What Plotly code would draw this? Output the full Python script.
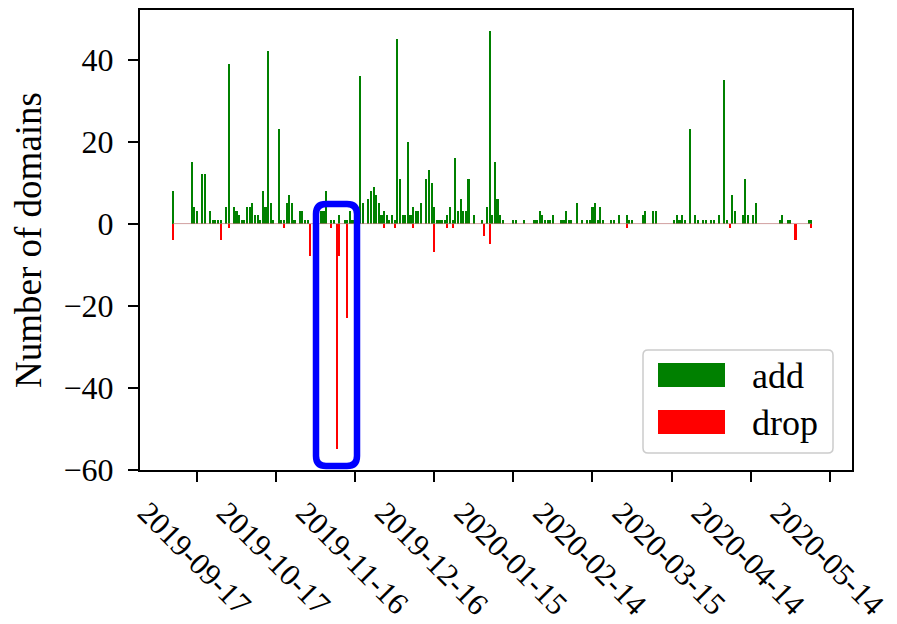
import plotly.graph_objects as go
import pandas as pd

# ---- data (daily series, first day of data) ----
start_date = "2019-09-08"

add_values = [
    8, 0, 0, 0, 0, 0, 0, 15, 4, 3,
    0, 12, 12, 0, 3, 1, 1, 1, 1, 0,
    4, 39, 0, 4, 3, 2, 1, 1, 4, 4,
    5, 2, 2, 1, 8, 4, 42, 5, 1, 0,
    23, 1, 1, 5, 7, 5, 1, 0, 3, 3,
    1, 1, 0, 0, 0, 1, 3, 3, 8, 0,
    1, 1, 0, 2, 0, 1, 1, 3, 1, 0,
    0, 36, 5, 0, 6, 8, 9, 7, 5, 2,
    3, 2, 1, 2, 1, 45, 11, 2, 2, 20,
    2, 4, 3, 3, 5, 0, 11, 13, 10, 4,
    1, 1, 1, 1, 2, 4, 1, 16, 3, 6,
    3, 3, 11, 0, 2, 0, 0, 1, 0, 4,
    47, 2, 15, 6, 2, 1, 0, 0, 0, 1,
    1, 0, 0, 1, 0, 0, 0, 1, 1, 3,
    2, 1, 1, 1, 2, 0, 0, 1, 1, 3,
    1, 1, 0, 5, 0, 1, 0, 1, 1, 4,
    5, 1, 4, 1, 0, 0, 1, 1, 0, 2,
    0, 0, 2, 1, 1, 0, 0, 0, 2, 3,
    0, 0, 3, 3, 0, 0, 0, 0, 0, 0,
    1, 2, 1, 2, 1, 0, 23, 0, 2, 1,
    0, 1, 1, 0, 1, 1, 0, 2, 0, 35,
    1, 0, 7, 3, 0, 0, 2, 11, 2, 0,
    2, 5, 0, 0, 0, 0, 0, 0, 0, 0,
    1, 2, 0, 1, 1, 0, 0, 0, 0, 0,
    0, 1, 1,
]

drop_values = [
    -4, 0, 0, 0, 0, 0, 0, 0, 0, 0,
    0, 0, 0, 0, 0, 0, 0, 0, -4, 0,
    0, -1, 0, 0, 0, 0, 0, 0, 0, 0,
    0, 0, 0, 0, 0, 0, 0, 0, 0, 0,
    0, 0, -1, 0, 0, 0, 0, 0, 0, 0,
    0, 0, -8, 0, 0, 0, 0, 0, 0, 0,
    -1, 0, -55, -8, 0, 0, -23, 0, 0, 0,
    0, 0, 0, 0, 0, 0, 0, 0, 0, 0,
    -1, 0, 0, 0, -1, 0, 0, 0, 0, 0,
    0, -1, 0, 0, 0, 0, 0, 0, 0, -7,
    0, 0, 0, 0, -1, 0, -1, 0, 0, 0,
    0, 0, 0, 0, 0, 0, 0, 0, -3, 0,
    -5, 0, 0, 0, 0, 0, 0, 0, 0, 0,
    0, 0, 0, 0, 0, 0, 0, 0, 0, 0,
    0, 0, 0, 0, 0, 0, 0, 0, 0, 0,
    0, 0, 0, 0, 0, 0, 0, 0, 0, 0,
    0, 0, 0, 0, 0, 0, 0, 0, 0, 0,
    0, 0, -1, 0, 0, 0, 0, 0, 0, 0,
    0, 0, 0, 0, 0, 0, 0, 0, 0, 0,
    0, 0, 0, 0, 0, 0, 0, 0, 0, 0,
    0, 0, 0, 0, 0, 0, 0, 0, 0, 0,
    0, -1, 0, 0, 0, 0, 0, 0, 0, 0,
    0, 0, 0, 0, 0, 0, 0, 0, 0, 0,
    0, 0, 0, 0, 0, 0, -4, 0, 0, 0,
    0, 0, -1,
]

tick_dates = ["2019-09-17", "2019-10-17", "2019-11-16", "2019-12-16", "2020-01-15",
              "2020-02-14", "2020-03-15", "2020-04-14", "2020-05-14"]
y_ticks = [-60, -40, -20, 0, 20, 40]
x_range = ["2019-08-26 10:00", "2020-05-22 10:00"]
y_range = [-60.1, 52.1]

dates = pd.date_range(start_date, periods=len(add_values), freq="D")
day_ms = 86400000

FONT = "Liberation Serif, DejaVu Serif, serif"

# page body has an 8px default margin: figure placed so plot area sits at x 140..852, y 10..470
PAGE_OFF = 8
FIG_W, FIG_H = 897 - PAGE_OFF, 624 - PAGE_OFF
M_L, M_T = 140 - PAGE_OFF, 10 - PAGE_OFF
M_R = FIG_W - M_L - 712
M_B = FIG_H - M_T - 460

fig = go.Figure()
fig.add_trace(go.Scatter(x=[dates[0], dates[-1]], y=[0, 0], mode="lines",
                         line=dict(color="rgba(190,120,120,0.7)", width=1),
                         showlegend=False, hoverinfo="skip"))
fig.add_trace(go.Bar(x=dates, y=add_values, name="add", marker_color="#008000",
                     marker_line_width=0, width=0.8 * day_ms, showlegend=False))
fig.add_trace(go.Bar(x=dates, y=drop_values, name="drop", marker_color="#ff0000",
                     marker_line_width=0, width=0.8 * day_ms, showlegend=False))

axis_common = dict(showgrid=False, zeroline=False, showline=True, linecolor="black",
                   linewidth=2, mirror=True, ticks="outside", ticklen=10, tickwidth=1.5,
                   tickcolor="black", automargin=False)

fig.update_xaxes(type="date", range=x_range, tickvals=tick_dates, ticktext=tick_dates,
                 tickangle=45, ticklabelshift=-50,
                 tickfont=dict(family=FONT, size=31, color="black"), **axis_common)
fig.update_yaxes(range=y_range, tickvals=y_ticks, ticklabelstandoff=8,
                 tickfont=dict(family=FONT, size=32, color="black"),
                 title=dict(text="Number of domains", font=dict(family=FONT, size=37, color="black"),
                            standoff=22),
                 **axis_common)

def px(xp):
    return (xp - 140) / 712

def py(yp):
    return (470 - yp) / 460

def rounded_rect(x0p, x1p, y0p, y1p, r):
    bx0, bx1, by0, by1 = px(x0p), px(x1p), py(y1p), py(y0p)
    rx, ry = r / 712, r / 460
    return (f"M {bx0+rx},{by1} L {bx1-rx},{by1} Q {bx1},{by1} {bx1},{by1-ry} "
            f"L {bx1},{by0+ry} Q {bx1},{by0} {bx1-rx},{by0} "
            f"L {bx0+rx},{by0} Q {bx0},{by0} {bx0},{by0+ry} "
            f"L {bx0},{by1-ry} Q {bx0},{by1} {bx0+rx},{by1} Z")

shapes = [
    dict(type="path", xref="paper", yref="paper", path=rounded_rect(643, 833, 350, 453, 5),
         line=dict(color="#cccccc", width=1.5), fillcolor="white", layer="above"),
    dict(type="rect", xref="paper", yref="paper", x0=px(658), x1=px(725), y0=py(387), y1=py(363),
         line=dict(width=0), fillcolor="#008000", layer="above"),
    dict(type="rect", xref="paper", yref="paper", x0=px(658), x1=px(725), y0=py(434), y1=py(410),
         line=dict(width=0), fillcolor="#ff0000", layer="above"),
    # blue rounded highlight box
    dict(type="path", xref="paper", yref="paper", path=rounded_rect(316, 357, 204, 466, 10),
         line=dict(color="#0000ff", width=6.5), layer="above"),
]

annotations = [
    dict(xref="paper", yref="paper", x=px(750), y=py(376), text="add", showarrow=False,
         xanchor="left", yanchor="middle", font=dict(family=FONT, size=36, color="black")),
    dict(xref="paper", yref="paper", x=px(750), y=py(423), text="drop", showarrow=False,
         xanchor="left", yanchor="middle", font=dict(family=FONT, size=36, color="black")),
]

fig.update_layout(width=FIG_W, height=FIG_H, margin=dict(l=M_L, r=M_R, t=M_T, b=M_B),
                  plot_bgcolor="white", paper_bgcolor="white", barmode="overlay",
                  bargap=0, shapes=shapes, annotations=annotations,
                  font=dict(family=FONT, color="black"))

fig.write_html("out.html")
